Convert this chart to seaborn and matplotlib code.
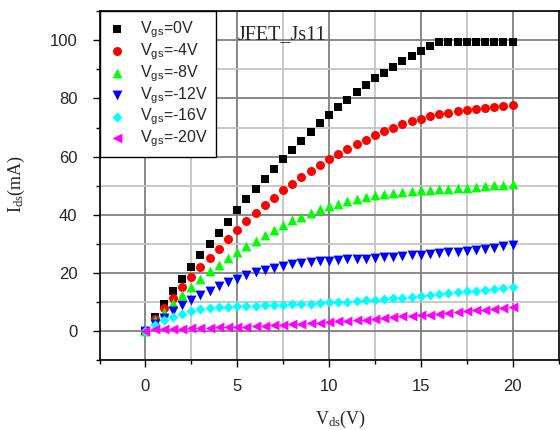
import numpy as np
import pandas as pd
import matplotlib
matplotlib.use('Agg')
import matplotlib.pyplot as plt
import seaborn as sns
from matplotlib.ticker import MultipleLocator

# drain-source voltage (V)
vds = [0.0, 0.5, 1.0, 1.5, 2.0, 2.5, 3.0, 3.5, 4.0, 4.5,
       5.0, 5.5, 6.0, 6.5, 7.0, 7.5, 8.0, 8.5, 9.0, 9.5,
       10.0, 10.5, 11.0, 11.5, 12.0, 12.5, 13.0, 13.5, 14.0, 14.5,
       15.0, 15.5, 16.0, 16.5, 17.0, 17.5, 18.0, 18.5, 19.0, 19.5, 20.0]

# drain current (mA) for each gate voltage
ids_0 = [0.0, 4.7, 9.2, 13.6, 17.8, 22.1, 26.0, 30.0, 33.8, 37.5,
         41.5, 45.3, 48.8, 52.2, 55.6, 59.1, 62.3, 65.3, 68.5, 71.4,
         74.2, 77.0, 79.6, 82.2, 84.5, 86.9, 88.8, 90.9, 92.8, 94.6,
         96.3, 98.0, 99.4, 99.5, 99.5, 99.5, 99.5, 99.5, 99.5, 99.5, 99.5]
ids_m4 = [0.0, 4.2, 7.9, 11.5, 15.1, 18.5, 22.0, 25.2, 28.3, 31.6,
          34.6, 37.7, 40.6, 43.2, 45.9, 48.4, 50.7, 53.0, 55.1, 57.2,
          59.2, 60.9, 62.5, 64.2, 65.8, 67.3, 68.8, 70.0, 71.1, 72.1,
          73.1, 73.9, 74.5, 75.1, 75.6, 76.1, 76.5, 76.8, 77.1, 77.3, 77.6]
ids_m8 = [0.0, 3.7, 6.5, 9.5, 12.3, 15.2, 17.9, 20.5, 22.8, 25.1,
          27.0, 29.3, 30.9, 32.9, 34.9, 36.4, 38.1, 39.2, 40.6, 41.8,
          42.9, 43.8, 44.8, 45.4, 46.1, 46.7, 47.0, 47.3, 47.8, 48.2,
          48.4, 48.6, 48.8, 49.0, 49.2, 49.3, 49.5, 49.8, 50.1, 50.3, 50.7]
ids_m12 = [0.0, 2.3, 4.6, 6.8, 8.8, 10.6, 12.3, 13.9, 15.3, 16.7,
           18.0, 19.2, 20.2, 21.0, 21.8, 22.5, 23.0, 23.4, 23.7, 24.0,
           24.2, 24.4, 24.6, 24.8, 24.9, 25.1, 25.3, 25.5, 25.7, 26.0,
           26.3, 26.5, 26.8, 27.0, 27.3, 27.6, 27.9, 28.2, 28.7, 29.1, 29.7]
ids_m16 = [0.0, 1.9, 3.7, 4.8, 6.0, 6.8, 7.5, 7.9, 8.2, 8.4,
           8.5, 8.6, 8.7, 8.8, 8.9, 9.0, 9.1, 9.3, 9.4, 9.6,
           9.8, 9.9, 10.1, 10.3, 10.5, 10.7, 11.0, 11.2, 11.5, 11.8,
           12.1, 12.4, 12.7, 13.0, 13.3, 13.6, 13.9, 14.2, 14.5, 14.8, 15.2]
ids_m20 = [0.0, 0.5, 0.6, 0.7, 0.8, 0.9, 1.0, 1.1, 1.2, 1.3,
           1.4, 1.5, 1.7, 1.8, 2.0, 2.1, 2.3, 2.5, 2.7, 2.9,
           3.1, 3.3, 3.5, 3.7, 3.9, 4.2, 4.6, 4.8, 5.0, 5.2,
           5.4, 5.6, 6.0, 6.2, 6.5, 6.7, 7.1, 7.3, 7.6, 7.8, 8.3]

labels = ['V$_{gs}$=0V', 'V$_{gs}$=-4V', 'V$_{gs}$=-8V',
          'V$_{gs}$=-12V', 'V$_{gs}$=-16V', 'V$_{gs}$=-20V']
curves = [ids_0, ids_m4, ids_m8, ids_m12, ids_m16, ids_m20]
colors = ['#000000', '#ff0000', '#00ff00', '#0000ff', '#00ffff', '#ff00ff']
markers = ['s', 'o', '^', 'v', 'D', '<']
sizes = [32, 42, 50, 50, 26, 50]

sns.set_style('white')
plt.rcParams['font.family'] = ['Liberation Sans', 'DejaVu Sans']
plt.rcParams['mathtext.default'] = 'regular'

fig = plt.figure(figsize=(5.6, 4.3), dpi=100)
ax = fig.add_axes([99.5 / 560, 70 / 430, 459 / 560, 348.7 / 430])

for lab, ids, col, mk, sz in zip(labels, curves, colors, markers, sizes):
    df = pd.DataFrame({'Vds': vds, 'Ids': ids})
    sns.scatterplot(data=df, x='Vds', y='Ids', marker=mk, color=col, s=sz,
                    linewidth=0, label=lab, ax=ax, zorder=3)

ax.set_xlim(-2.5, 22.5)
ax.set_ylim(-10, 110)
ax.xaxis.set_major_locator(MultipleLocator(5))
ax.xaxis.set_minor_locator(MultipleLocator(2.5))
ax.yaxis.set_major_locator(MultipleLocator(20))
ax.yaxis.set_minor_locator(MultipleLocator(10))

ax.set_axisbelow(True)
ax.grid(True, which='major', color='#808080', linewidth=1.3)
ax.grid(True, which='minor', color='#c4c4c4', linewidth=1.3)

ax.tick_params(axis='both', which='major', direction='out', length=5, width=1,
               labelsize=12, color='black', bottom=True, left=True)
ax.tick_params(axis='both', which='minor', direction='out', length=3, width=1,
               color='black', bottom=True, left=True)
ax.tick_params(axis='y', which='major', pad=11)
ax.tick_params(axis='x', which='major', pad=9)

for sp in ax.spines.values():
    sp.set_color('black')
    sp.set_linewidth(1.2)

ax.set_xlabel('V$_{ds}$(V)', family='Liberation Serif', fontsize=13)
ax.set_ylabel('I$_{ds}$(mA)', family='Liberation Serif', fontsize=13)
ax.xaxis.set_label_coords(0.525, -0.14)
ax.yaxis.set_label_coords(-0.158, 0.506)

ax.text(5.05, 100.3, 'JFET_Js11', family='Liberation Serif', fontsize=14.5,
        ha='left', va='baseline')

leg = ax.legend(loc='upper left', bbox_to_anchor=(0, 1), borderaxespad=0,
                frameon=True, fancybox=False, edgecolor='black', framealpha=1,
                fontsize=11.5, handletextpad=0.83, labelspacing=0.08,
                borderpad=0.5, handlelength=1.2)
leg.get_frame().set_linewidth(1)

fig.savefig('out.png', dpi=100, facecolor='white')
